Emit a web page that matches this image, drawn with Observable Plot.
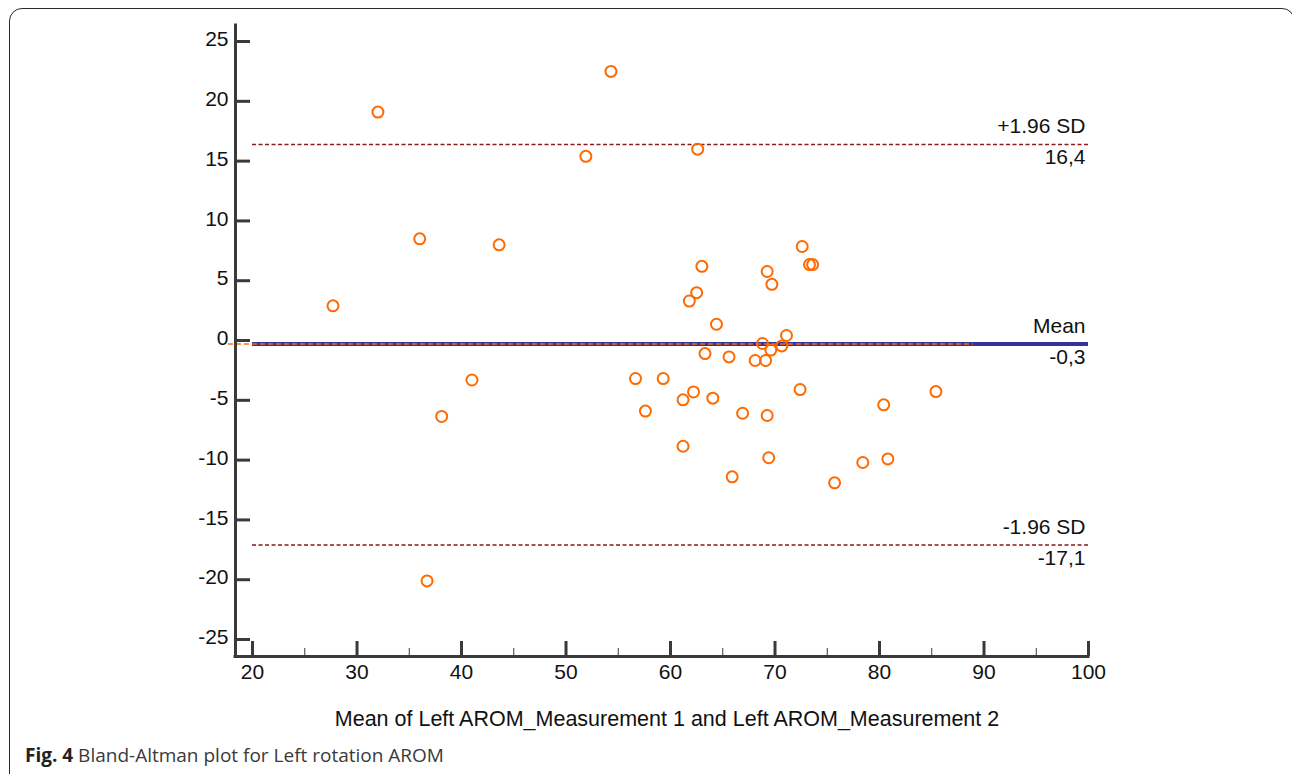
<!DOCTYPE html>
<html><head><meta charset="utf-8">
<script src="https://cdn.jsdelivr.net/npm/d3@7"></script>
<script src="https://cdn.jsdelivr.net/npm/@observablehq/plot@0.6"></script>
<style>
body{margin:0;background:#fff;overflow:hidden}
#wrap{position:relative;width:1292px;height:774px;overflow:hidden}
#frame{position:absolute;left:9px;top:8px;width:1286px;height:830px;border:1.5px solid #2a2a2a;border-radius:13px;box-sizing:border-box}
#chart{position:absolute;left:0;top:0}
#caption{position:absolute;left:25px;top:742px;font-family:"Open Sans",sans-serif;font-size:19px;color:#3a3a3a;white-space:nowrap}
#caption b{color:#222}
</style></head><body>
<div id="wrap"><div id="frame"></div><div id="chart"></div><div id="caption"><b>Fig. 4</b> Bland-Altman plot for Left rotation AROM</div></div>
<script>
// Mean of the two measurements (x) and their difference (y)
const meanX = [27.7, 32.0, 36.0, 43.6, 51.9, 54.3, 62.6, 38.1, 41.0, 36.7, 63.0, 62.5, 61.8, 64.4, 69.25, 69.7, 72.6, 73.3, 73.6, 71.1, 68.8, 70.65, 69.6, 63.3, 65.6, 68.1, 69.1, 56.65, 59.3, 62.2, 61.2, 64.05, 72.4, 57.6, 66.9, 69.25, 85.4, 80.4, 61.2, 69.4, 65.9, 75.7, 78.4, 80.8];
const diffY = [2.9, 19.1, 8.5, 8.0, 15.4, 22.5, 16.0, -6.35, -3.3, -20.1, 6.2, 4.0, 3.3, 1.36, 5.77, 4.7, 7.86, 6.35, 6.35, 0.42, -0.25, -0.45, -0.8, -1.09, -1.37, -1.67, -1.67, -3.18, -3.18, -4.3, -4.96, -4.82, -4.1, -5.9, -6.08, -6.27, -4.27, -5.38, -8.84, -9.8, -11.4, -11.9, -10.2, -9.9];

// Reference lines
const lineNames = ["+1.96 SD", "Mean", "-1.96 SD"];
const lineValues = [16.4, -0.3, -17.1];
const lineValueLabels = ["16,4", "-0,3", "-17,1"];
const lineExtent = [20, 100];
const regressionExtent = [17.7, 88.9];
const regressionValue = -0.3;

// Axes
const xDomain = [18.37, 100];
const yDomain = [-26.42, 26.34];
const xTicks = [20, 30, 40, 50, 60, 70, 80, 90, 100];
const xMinorTicks = [25, 35, 45, 55, 65, 75, 85, 95];
const yTicks = [-25, -20, -15, -10, -5, 0, 5, 10, 15, 20, 25];
const xLabel = "Mean of Left AROM_Measurement 1 and Left AROM_Measurement 2";

const points = meanX.map((m, i) => ({m, d: diffY[i]}));
const refLines = lineNames.map((name, i) => ({name, value: lineValues[i], label: lineValueLabels[i]}));
const sdLines = refLines.filter(d => d.name !== "Mean");
const meanLine = refLines.filter(d => d.name === "Mean");
const regLine = regressionExtent.map(x => ({x, y: regressionValue}));

const axisColor = "#3a3a3a";

const chart = Plot.plot({
  width: 1292,
  height: 740,
  marginLeft: 235,
  marginRight: 204,
  marginTop: 25,
  marginBottom: 84,
  x: {domain: xDomain},
  y: {domain: yDomain},
  style: {fontFamily: "'Liberation Sans', Arial, sans-serif", fontSize: "21px", color: "#111", background: "transparent"},
  marks: [
    Plot.ruleY(sdLines, {y: "value", x1: lineExtent[0], x2: lineExtent[1], stroke: "#8b1a1a", strokeWidth: 1.5, strokeDasharray: "4,2.5"}),
    Plot.ruleY(meanLine, {y: "value", x1: lineExtent[0], x2: lineExtent[1], stroke: "#333399", strokeWidth: 4}),
    Plot.line(regLine, {x: "x", y: "y", stroke: "#ff6a00", strokeWidth: 1.5, strokeDasharray: "4,4"}),
    Plot.dot(points, {x: "m", y: "d", r: 5.5, stroke: "#ff6a00", strokeWidth: 2, fill: "none"}),
    Plot.text(refLines, {x: lineExtent[1], y: "value", text: "name", textAnchor: "end", lineAnchor: "bottom", dx: -3, dy: -11, fill: "#111"}),
    Plot.text(refLines, {x: lineExtent[1], y: "value", text: "label", textAnchor: "end", lineAnchor: "top", dx: -3, dy: 5, fill: "#111"}),
    Plot.ruleX([xDomain[0]], {stroke: axisColor, strokeWidth: 3, strokeLinecap: "square"}),
    Plot.ruleY([yDomain[0]], {stroke: axisColor, strokeWidth: 3, strokeLinecap: "square"}),
    Plot.axisY({ticks: yTicks, tickSize: -15, stroke: axisColor, strokeWidth: 3, tickFormat: () => "", label: null}),
    Plot.axisY({ticks: yTicks, tickSize: 0, tickPadding: 7, dy: -2, tickFormat: d => String(d), fill: "#111", label: null}),
    Plot.axisX({ticks: xTicks, tickSize: -15, stroke: axisColor, strokeWidth: 3, tickFormat: () => "", label: null}),
    Plot.axisX({ticks: xMinorTicks, tickSize: -8, stroke: axisColor, strokeWidth: 1, tickFormat: () => "", label: null}),
    Plot.axisX({ticks: xTicks, tickSize: 0, tickPadding: 8, tickFormat: d => String(d), fill: "#111", label: null}),
    Plot.text([xLabel], {frameAnchor: "bottom", lineAnchor: "bottom", dy: 69, dx: 5, fill: "#111", fontSize: 21.5})
  ]
});
document.getElementById("chart").appendChild(chart);
</script>
</body></html>
